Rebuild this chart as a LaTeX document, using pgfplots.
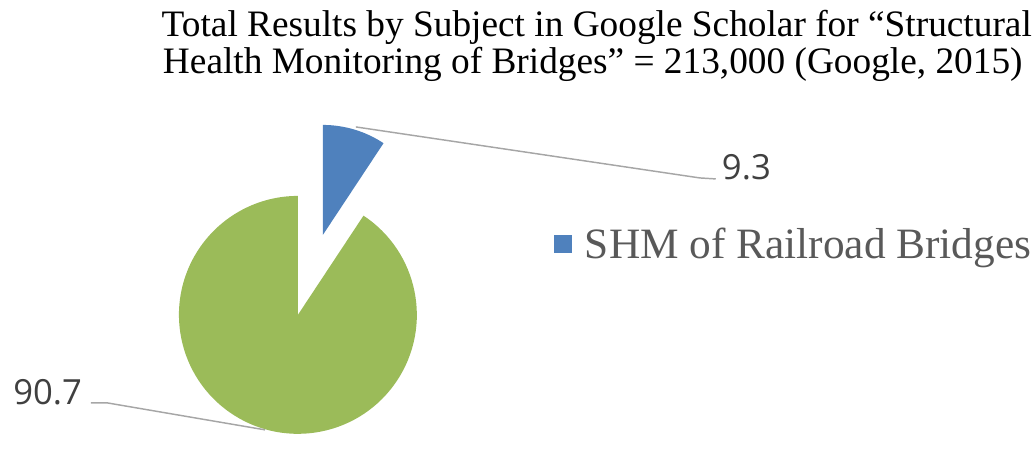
\documentclass[border=0pt]{standalone}
\usepackage{pgfplots}
\pgfplotsset{compat=1.18}
\usepackage{pgfplotstable}
\usepackage{fontspec}
\setmainfont{Liberation Serif}
\newfontfamily\titlefont{Liberation Serif}
\newfontfamily\lblfont{Open Sans}
\definecolor{pieblue}{HTML}{4F81BD}
\definecolor{piegreen}{HTML}{9BBB59}
\definecolor{leadgray}{HTML}{A6A6A6}
\definecolor{lbltext}{HTML}{404040}
\definecolor{legtext}{HTML}{595959}
\pgfplotstableread{
subject value
SHM-Railroad 9.3
Other 90.7
}\piedata
\pgfplotstablegetelem{0}{value}\of\piedata
\let\vA\pgfplotsretval
\pgfplotstablegetelem{1}{value}\of\piedata
\let\vB\pgfplotsretval
\pgfmathsetmacro\aSplit{90-3.6*\vA}
\pgfmathsetmacro\aEnd{\aSplit-3.6*\vB}
\begin{document}
\begin{tikzpicture}
\begin{axis}[
  scale only axis, width=775.5pt, height=324.75pt,
  xmin=0, xmax=1034, ymin=0, ymax=433,
  hide axis, clip=false,
  legend style={at={(axis cs:554,189)}, anchor=west, draw=none, fill=none,
    inner sep=0pt, outer sep=0pt, font=\fontsize{32.5pt}{36pt}\selectfont\color{legtext},
    /tikz/every even column/.append style={column sep=0pt}},
  legend cell align=left,
]
\path (axis cs:0,0) rectangle (axis cs:1034,433);
\addlegendimage{legend image code/.code={\fill[pieblue] (0pt,-6.2pt) rectangle (13pt,6.2pt);}}
\addlegendentry{\hspace{8pt}SHM of Railroad Bridges}
% green slice
\fill[piegreen] (axis cs:298,118) -- ++(\aSplit:89.25pt) arc[start angle=\aSplit, end angle=\aEnd, radius=89.25pt] -- cycle;
% blue (exploded) slice
\fill[pieblue] (axis cs:323,198) -- ++(90:82.5pt) arc[start angle=90, end angle=\aSplit, radius=82.5pt] -- cycle;
% leader lines
\draw[leadgray, line width=1.1pt] (axis cs:356,306) -- (axis cs:700,255) -- (axis cs:716,254);
\draw[leadgray, line width=1.1pt] (axis cs:91,30) -- (axis cs:107,30) -- (axis cs:265,3);
% data labels
\node[anchor=base west, inner sep=0pt, font=\lblfont\fontsize{26pt}{30pt}\selectfont, text=lbltext] at (axis cs:722,253) {\vA};
\node[anchor=base west, inner sep=0pt, font=\lblfont\fontsize{26pt}{30pt}\selectfont, text=lbltext] at (axis cs:13,28) {\vB};
% title
\node[anchor=base, inner sep=0pt, font=\titlefont\fontsize{28pt}{30pt}\selectfont] at (axis cs:597,396) {Total Results by Subject in Google Scholar for “Structural};
\node[anchor=base, inner sep=0pt, font=\titlefont\fontsize{28pt}{30pt}\selectfont] at (axis cs:593,359) {Health Monitoring of Bridges” = 213,000 (Google, 2015)};
\end{axis}
\end{tikzpicture}
\end{document}
